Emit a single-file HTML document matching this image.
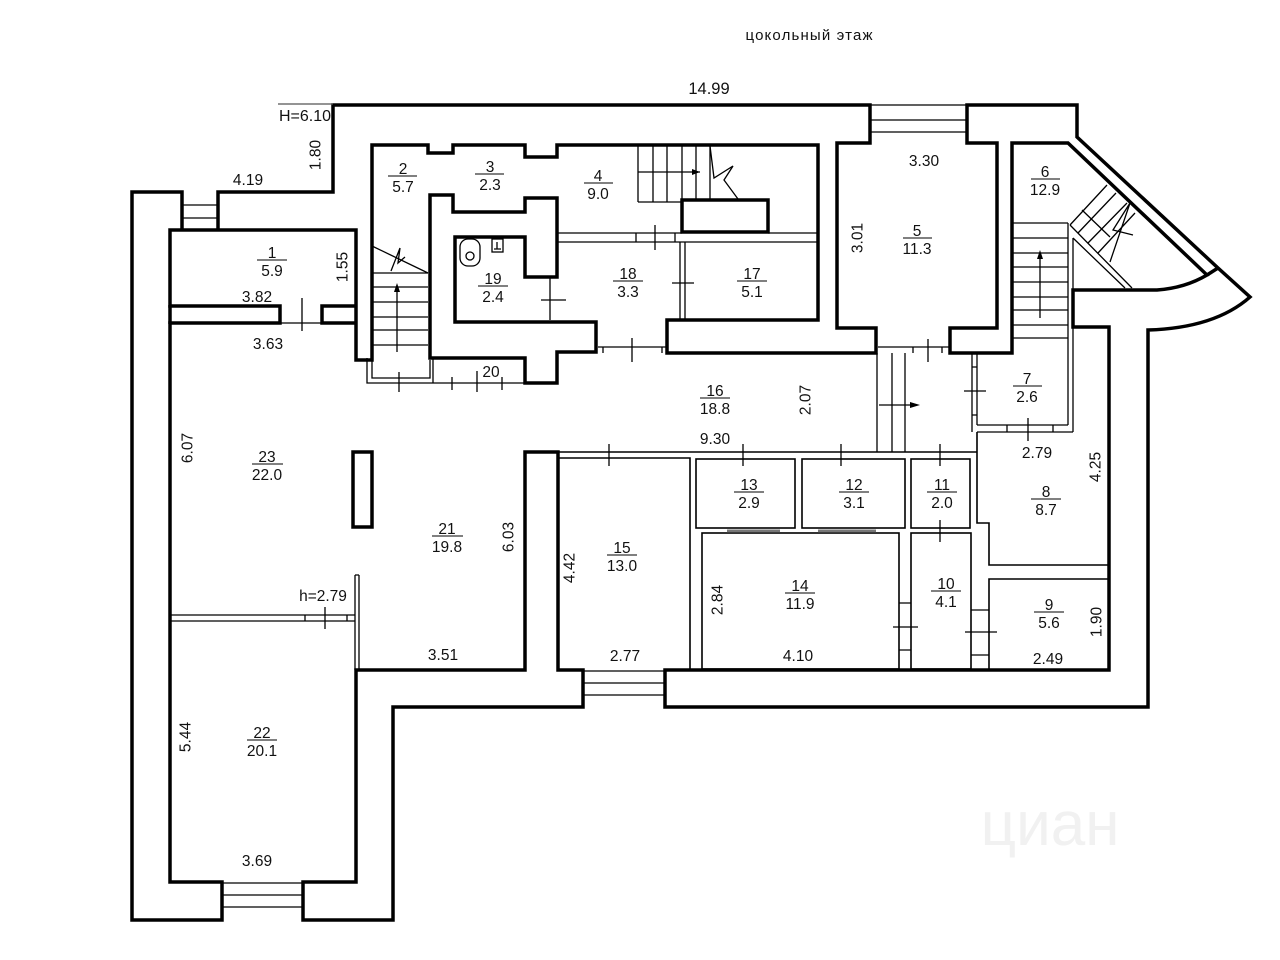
<!DOCTYPE html>
<html><head><meta charset="utf-8">
<style>
html,body{margin:0;padding:0;background:#fff;}
svg{display:block;}
text{font-family:"Liberation Sans",Arial,sans-serif;font-size:15.5px;fill:#111;text-anchor:middle;}
</style></head><body>
<svg width="1280" height="960" viewBox="0 0 1280 960" xmlns="http://www.w3.org/2000/svg">
<rect width="1280" height="960" fill="#fff"/>

<!-- faint watermark -->
<text x="1050" y="845" style="font-size:62px;fill:#f1f1f1;">циан</text>

<!-- thick walls -->
<g fill="none" stroke="#000" stroke-width="3.5" stroke-linejoin="miter">
<path d="M182,230 L182,192 L132,192 L132,920 L222,920 L222,882 L170,882 L170,323 L280,323 L280,306 L170,306 L170,230 L356,230 L356,360 L372,360 L372,145 L428,145 L428,153 L453,153 L453,145 L525,145 L525,157 L557,157 L557,145 L818,145 L818,320 L667,320 L667,353 L876,353 L876,328 L837,328 L837,143 L870,143 L870,105 L333,105 L333,192 L218,192 L218,230"/>
<path d="M170,305 L170,324"/>
<path d="M356,306 L322,306 L322,323 L356,323"/>
<path d="M430,195 L453,195 L453,212 L525,212 L525,198 L557,198 L557,277 L525,277 L525,237 L455,237 L455,322 L596,322 L596,352 L557,352 L557,383 L525,383 L525,358 L430,358 Z"/>
<path d="M950,353 L950,328 L997,328 L997,143 L967,143 L967,105 L1077,105 L1077,137 L1218,268 L1250,297 Q1215,328 1148,330 L1148,707 L665,707 L665,670 L1109,670 L1109,327 L1073,327 L1073,290 L1157,290 Q1185,288 1207,275 L1068,143 L1012,143 L1012,353 Z"/>
<path d="M1207,275 L1218,268"/>
<path d="M583,707 L583,670 L558,670 L558,452 L525,452 L525,670 L356,670 L356,882 L303,882 L303,920 L393,920 L393,707 Z"/>
<rect x="353" y="452" width="19" height="75"/>
<rect x="682" y="200" width="86" height="32"/>
</g>

<!-- thin lines -->
<g fill="none" stroke="#000" stroke-width="1.3">
<path d="M278,104 L333,104" stroke="#555"/>
<!-- entrance stairs -->
<path d="M182,205 L218,205 M182,218 L218,218"/>
<path d="M870,105 L967,105 M870,120 L967,120 M870,132 L967,132"/>
<path d="M583,671 L665,671 M583,683 L665,683 M583,695 L665,695"/>
<path d="M222,883 L303,883 M222,895 L303,895 M222,907 L303,907"/>
<!-- room 1 door -->
<path d="M280,323 L322,323 M302,298 L302,331"/>
<!-- stair 2 -->
<path d="M372,273 L428,273 M372,287 L428,287 M372,302 L428,302 M372,317 L428,317 M372,330 L428,330 M372,345 L428,345"/>
<path d="M372,246 L428,273"/>
<path d="M391,271 L400,248 L398,263 L405,257"/>
<path d="M397,352 L397,290"/>
<path d="M367,358 L367,383 L525,383 M372,360 L372,378 L430,378 L430,360 M433,358 L433,383"/>
<path d="M399,372 L399,392 M452,377 L452,390 M477,371 L477,392 M502,377 L502,390"/>
<!-- room 4 stairs -->
<path d="M638,145 L638,202 M653,145 L653,202 M667,145 L667,202 M682,145 L682,200 M696,145 L696,200 M710,145 L710,200"/>
<path d="M638,202 L682,202 M638,172 L700,172"/>
<path d="M710,146 L714,178 L733,166 L724,180 L738,199"/>
<!-- room 4 bottom partition -->
<path d="M558,233 L682,233 M768,233 L818,233 M558,242 L818,242 M636,233 L636,242 M675,233 L675,242 M655,225 L655,250"/>
<!-- 18/17 partition -->
<path d="M680,242 L680,320 M685,242 L685,320 M672,283 L694,283"/>
<!-- 18 left -->
<path d="M550,277 L550,320 M541,300 L566,300"/>
<!-- 18 bottom door -->
<path d="M598,347 L667,347 M632,338 L632,362 M603,347 L603,353 M662,347 L662,353"/>
<!-- room 5 door -->
<path d="M878,347 L950,347 M928,339 L928,362 M913,347 L913,353 M942,347 L942,353"/>
<!-- vestibule -->
<path d="M877,353 L877,452 M892,353 L892,452 M905,353 L905,452"/>
<path d="M879,405 L912,405"/>
<!-- room 7 -->
<path d="M972,353 L972,432 M977,353 L977,425 M964,391 L986,391 M972,367 L977,367 M972,415 L977,415"/>
<path d="M977,425 L1068,425 M977,432 L1073,432 M1028,418 L1028,441 M1007,425 L1007,432 M1053,425 L1053,432"/>
<path d="M1068,223 L1068,425 M1073,238 L1073,432"/>
<!-- room 6 stairs -->
<path d="M1012,223 L1068,223 M1012,238 L1068,238 M1012,253 L1068,253 M1012,267 L1068,267 M1012,282 L1068,282 M1012,297 L1068,297 M1012,310 L1068,310 M1012,325 L1068,325 M1012,338 L1068,338"/>
<path d="M1040,318 L1040,258"/>
<path d="M1070,225 L1132,288 M1073,238 L1125,288"/>
<path d="M1070,225 L1107,185 M1078,233 L1116,193 M1088,243 L1127,203 M1098,253 L1135,213"/>
<path d="M1082,210 L1110,237 M1110,262 L1130,203 L1113,230 L1133,235"/>
<!-- room 8 / 9 -->
<path d="M977,432 L977,523 L989,523 L989,565 L1109,565" stroke-width="1.6"/>
<path d="M989,669 L989,579 L1109,579" stroke-width="1.6"/>
<path d="M971,610 L989,610 M971,655 L989,655 M965,632 L997,632"/>
<!-- corridor bottom and small rooms -->
<path d="M558,452 L977,452" stroke-width="1.6"/>
<path d="M558,458 L690,458 L690,670" stroke-width="1.6"/>
<g stroke-width="1.6">
<rect x="696" y="459" width="99" height="69"/>
<rect x="802" y="459" width="103" height="69"/>
<rect x="911" y="459" width="59" height="69"/>
<rect x="702" y="533" width="197" height="136"/>
<rect x="911" y="533" width="60" height="136"/>
</g>
<path d="M727,531 L780,531 M818,531 L876,531" stroke="#777" stroke-width="3"/>
<path d="M609,444 L609,466 M743,444 L743,466 M841,444 L841,466 M940,444 L940,466 M940,520 L940,542"/>
<path d="M899,603 L911,603 M899,650 L911,650 M893,627 L918,627"/>
<!-- 22/23 partition -->
<path d="M170,615 L355,615 M170,621 L355,621 M355,575 L355,670 M359,575 L359,670 M355,575 L359,575 M325,607 L325,629 M305,615 L305,621 M347,615 L347,621"/>
<!-- WC fixtures -->
<rect x="460" y="239" width="20" height="27" rx="8"/>
<circle cx="470" cy="256" r="4"/>
<rect x="492" y="239" width="11" height="13"/>
<path d="M497,242 L497,249 M494,249 L501,249"/>
</g>
<!-- arrowheads -->
<g fill="#000">
<polygon points="397,283 394,292 400,292"/>
<polygon points="920,405 910,402 910,408"/>
<polygon points="1040,250 1037,259 1043,259"/>
<polygon points="700,172 692,169 692,175"/>
</g>

<!-- title -->
<text x="809" y="40" style="font-size:15px" textLength="127">цокольный этаж</text>

<!-- room labels -->
<g stroke="#000" stroke-width="1.1">
<line x1="257" y1="260" x2="287" y2="260"/>
<line x1="388" y1="176" x2="417" y2="176"/>
<line x1="475" y1="174" x2="504" y2="174"/>
<line x1="584" y1="183" x2="613" y2="183"/>
<line x1="903" y1="238" x2="932" y2="238"/>
<line x1="1031" y1="179" x2="1060" y2="179"/>
<line x1="478" y1="286" x2="508" y2="286"/>
<line x1="613" y1="281" x2="643" y2="281"/>
<line x1="737" y1="281" x2="767" y2="281"/>
<line x1="700" y1="398" x2="730" y2="398"/>
<line x1="1013" y1="386" x2="1042" y2="386"/>
<line x1="252" y1="464" x2="283" y2="464"/>
<line x1="432" y1="536" x2="463" y2="536"/>
<line x1="734" y1="492" x2="764" y2="492"/>
<line x1="839" y1="492" x2="869" y2="492"/>
<line x1="927" y1="492" x2="957" y2="492"/>
<line x1="1031" y1="499" x2="1061" y2="499"/>
<line x1="607" y1="555" x2="637" y2="555"/>
<line x1="785" y1="593" x2="815" y2="593"/>
<line x1="931" y1="591" x2="961" y2="591"/>
<line x1="1034" y1="612" x2="1064" y2="612"/>
<line x1="247" y1="740" x2="277" y2="740"/>
</g>
<g>
<text x="272" y="258">1</text><text x="272" y="276">5.9</text>
<text x="403" y="174">2</text><text x="403" y="192">5.7</text>
<text x="490" y="172">3</text><text x="490" y="190">2.3</text>
<text x="598" y="181">4</text><text x="598" y="199">9.0</text>
<text x="917" y="236">5</text><text x="917" y="254">11.3</text>
<text x="1045" y="177">6</text><text x="1045" y="195">12.9</text>
<text x="493" y="284">19</text><text x="493" y="302">2.4</text>
<text x="628" y="279">18</text><text x="628" y="297">3.3</text>
<text x="752" y="279">17</text><text x="752" y="297">5.1</text>
<text x="715" y="396">16</text><text x="715" y="414">18.8</text>
<text x="1027" y="384">7</text><text x="1027" y="402">2.6</text>
<text x="267" y="462">23</text><text x="267" y="480">22.0</text>
<text x="447" y="534">21</text><text x="447" y="552">19.8</text>
<text x="749" y="490">13</text><text x="749" y="508">2.9</text>
<text x="854" y="490">12</text><text x="854" y="508">3.1</text>
<text x="942" y="490">11</text><text x="942" y="508">2.0</text>
<text x="1046" y="497">8</text><text x="1046" y="515">8.7</text>
<text x="622" y="553">15</text><text x="622" y="571">13.0</text>
<text x="800" y="591">14</text><text x="800" y="609">11.9</text>
<text x="946" y="589">10</text><text x="946" y="607">4.1</text>
<text x="1049" y="610">9</text><text x="1049" y="628">5.6</text>
<text x="262" y="738">22</text><text x="262" y="756">20.1</text>
</g>

<!-- dimension labels -->
<g>
<text x="709" y="94" style="font-size:16.5px">14.99</text>
<text x="305" y="121" style="font-size:16px">H=6.10</text>
<text x="248" y="185">4.19</text>
<text x="257" y="302">3.82</text>
<text x="268" y="349">3.63</text>
<text x="491" y="377">20</text>
<text x="924" y="166">3.30</text>
<text x="715" y="444">9.30</text>
<text x="1037" y="458">2.79</text>
<text x="323" y="601">h=2.79</text>
<text x="443" y="660">3.51</text>
<text x="625" y="661">2.77</text>
<text x="798" y="661">4.10</text>
<text x="1048" y="664">2.49</text>
<text x="257" y="866">3.69</text>
<text transform="translate(315,155) rotate(-90)" dy="5.5">1.80</text>
<text transform="translate(342,267) rotate(-90)" dy="5.5">1.55</text>
<text transform="translate(857,238) rotate(-90)" dy="5.5">3.01</text>
<text transform="translate(805,400) rotate(-90)" dy="5.5">2.07</text>
<text transform="translate(1095,467) rotate(-90)" dy="5.5">4.25</text>
<text transform="translate(187,448) rotate(-90)" dy="5.5">6.07</text>
<text transform="translate(508,537) rotate(-90)" dy="5.5">6.03</text>
<text transform="translate(569,568) rotate(-90)" dy="5.5">4.42</text>
<text transform="translate(717,600) rotate(-90)" dy="5.5">2.84</text>
<text transform="translate(1096,622) rotate(-90)" dy="5.5">1.90</text>
<text transform="translate(185,737) rotate(-90)" dy="5.5">5.44</text>
</g>
</svg>
</body></html>
